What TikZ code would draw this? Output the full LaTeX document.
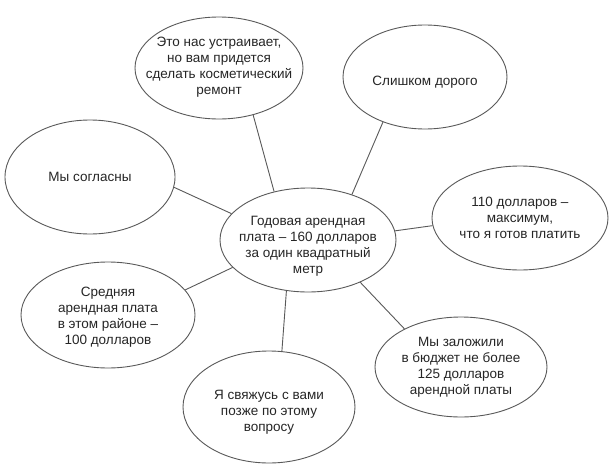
\documentclass[tikz,border=0pt]{standalone}
\usepackage{fontspec}
\setmainfont{Liberation Sans}
\usetikzlibrary{shapes.geometric}
\begin{document}
\begin{tikzpicture}[x=1pt,y=-1pt,
  bubble/.style={ellipse,draw=black!65,line width=0.9pt,inner sep=0pt},
  label/.style={align=center,font=\fontsize{13.5}{16}\selectfont,text=black!85,inner sep=0pt},
  link/.style={draw=black!65,line width=0.9pt}]
\useasboundingbox (0,0) rectangle (611,471);
\fill[white] (0,0) rectangle (611,471);
\node[bubble,minimum width=176pt,minimum height=104pt] (c) at (308,240) {};
\node[label] (tc) at ([yshift=-6pt]c.center) {Годовая арендная\\плата -- 160 долларов\\за один квадратный\\метр};
\node[bubble,minimum width=168pt,minimum height=102pt] (e1) at (219,68) {};
\node[label] (t1) at ([yshift=1pt]e1.center) {Это нас устраивает,\\но вам придется\\сделать косметический\\ремонт};
\node[bubble,minimum width=164pt,minimum height=104pt] (e2) at (425,77) {};
\node[label] (t2) at ([yshift=-5pt]e2.center) {Слишком дорого};
\node[bubble,minimum width=170pt,minimum height=114pt] (e3) at (90,177) {};
\node[label] (t3) at (e3) {Мы согласны};
\node[bubble,minimum width=176pt,minimum height=104pt] (e4) at (520,218) {};
\node[label] (t4) at (e4) {110 долларов --\\максимум,\\что я готов платить};
\node[bubble,minimum width=174pt,minimum height=106pt] (e5) at (108,315) {};
\node[label] (t5) at ([yshift=-2pt]e5.center) {Средняя\\арендная плата\\в этом районе --\\100 долларов};
\node[bubble,minimum width=172pt,minimum height=100pt] (e6) at (461,367) {};
\node[label] (t6) at (e6) {Мы заложили\\в бюджет не более\\125 долларов\\арендной платы};
\node[bubble,minimum width=172pt,minimum height=112pt] (e7) at (269,407) {};
\node[label] (t7) at ([yshift=-5pt]e7.center) {Я свяжусь с вами\\позже по этому\\вопросу};
\draw[link] (e1.-54) -- (c.125);
\draw[link] (e2.-133) -- (c.46);
\draw[link] (e3.-7) -- (c.161);
\draw[link] (e4.185) -- (c.6);
\draw[link] (e5.18) -- (c.-160);
\draw[link] (e6.146) -- (c.-39);
\draw[link] (e7.77) -- (c.-113);
\end{tikzpicture}
\end{document}
